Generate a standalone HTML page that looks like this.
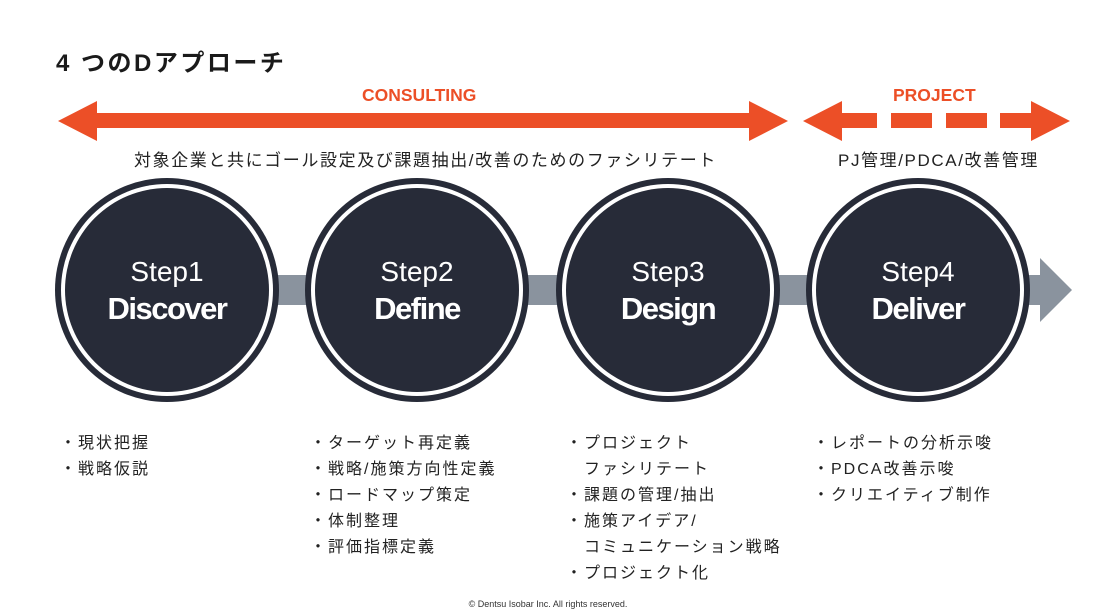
<!DOCTYPE html>
<html><head><meta charset="utf-8"><style>
body{margin:0;width:1096px;height:616px;background:#fff;position:relative;overflow:hidden;font-family:"Liberation Sans","Noto Sans CJK JP",sans-serif;color:#222}
.t{position:absolute;white-space:nowrap}
.b{position:absolute;font-size:16px;line-height:26px;white-space:nowrap;letter-spacing:2px}
</style></head><body>
<div class="t" style="left:56px;top:43px;font-size:24px;font-weight:bold;color:#1a1a1a;letter-spacing:2.5px">4 つのDアプローチ</div>
<div class="t" style="left:362px;top:85px;font-size:17.5px;font-weight:bold;color:#ec4f27">CONSULTING</div>
<div class="t" style="left:893px;top:85px;font-size:17.5px;font-weight:bold;color:#ec4f27">PROJECT</div>
<svg width="1096" height="616" style="position:absolute;left:0;top:0">
<g fill="#ec4f27">
<polygon points="58,121 97,101 97,113 749,113 749,101 788,121 749,141 749,128 97,128 97,141"/>
<polygon points="803,121 842,101 842,113 877,113 877,128 842,128 842,141"/>
<rect x="891" y="113" width="41" height="15"/><rect x="946" y="113" width="41" height="15"/>
<polygon points="1000,113 1031,113 1031,101 1070,121 1031,141 1031,128 1000,128"/>
</g>
<polygon fill="#8a939e" points="270,275 1040,275 1040,258 1072,290 1040,322 1040,305 270,305"/>
<g>
<circle cx="167" cy="290" r="112" fill="#272b38"/><circle cx="167" cy="290" r="106" fill="#fff"/><circle cx="167" cy="290" r="102" fill="#272b38"/>
<circle cx="417" cy="290" r="112" fill="#272b38"/><circle cx="417" cy="290" r="106" fill="#fff"/><circle cx="417" cy="290" r="102" fill="#272b38"/>
<circle cx="668" cy="290" r="112" fill="#272b38"/><circle cx="668" cy="290" r="106" fill="#fff"/><circle cx="668" cy="290" r="102" fill="#272b38"/>
<circle cx="918" cy="290" r="112" fill="#272b38"/><circle cx="918" cy="290" r="106" fill="#fff"/><circle cx="918" cy="290" r="102" fill="#272b38"/>
</g>
<g fill="#fff" text-anchor="middle" font-family="Liberation Sans, sans-serif">
<text x="167" y="281" font-size="28">Step1</text><text x="167" y="319" font-size="31" font-weight="bold" letter-spacing="-1.5">Discover</text>
<text x="417" y="281" font-size="28">Step2</text><text x="417" y="319" font-size="31" font-weight="bold" letter-spacing="-1.5">Define</text>
<text x="668" y="281" font-size="28">Step3</text><text x="668" y="319" font-size="31" font-weight="bold" letter-spacing="-1.5">Design</text>
<text x="918" y="281" font-size="28">Step4</text><text x="918" y="319" font-size="31" font-weight="bold" letter-spacing="-1.5">Deliver</text>
</g>
</svg>
<div class="t" style="left:134px;top:146px;font-size:17px;letter-spacing:1.6px">対象企業と共にゴール設定及び課題抽出/改善のためのファシリテート</div>
<div class="t" style="left:838px;top:146px;font-size:17px;letter-spacing:1.6px">PJ管理/PDCA/改善管理</div>
<div class="b" style="left:60px;top:431px">・現状把握<br>・戦略仮説</div>
<div class="b" style="left:310px;top:431px">・ターゲット再定義<br>・戦略/施策方向性定義<br>・ロードマップ策定<br>・体制整理<br>・評価指標定義</div>
<div class="b" style="left:566px;top:431px">・プロジェクト<br>　ファシリテート<br>・課題の管理/抽出<br>・施策アイデア/<br>　コミュニケーション戦略<br>・プロジェクト化</div>
<div class="b" style="left:813px;top:431px">・レポートの分析示唆<br>・PDCA改善示唆<br>・クリエイティブ制作</div>
<div class="t" style="left:0;width:1096px;text-align:center;top:599px;font-size:9px;color:#333">© Dentsu Isobar Inc. All rights reserved.</div>
</body></html>
